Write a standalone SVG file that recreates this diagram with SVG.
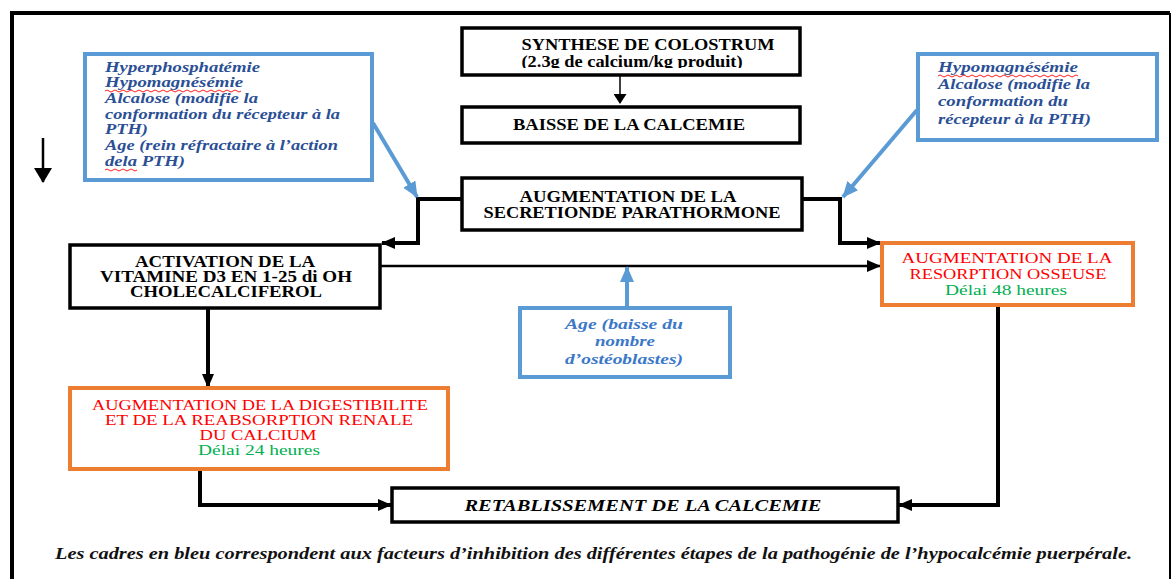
<svg xmlns="http://www.w3.org/2000/svg" width="1175" height="579" viewBox="0 0 1175 579">
<style>
.bx{fill:#fff;stroke:#000;stroke-width:3.5}
.bb{fill:#fff;stroke:#5b9bd5;stroke-width:4}
.ob{fill:#fff;stroke:#ed7d31;stroke-width:4}
text{font-family:"Liberation Serif",serif}
.t{font-weight:bold;font-size:16px;fill:#000;text-anchor:middle}
.r{font-size:15.5px;fill:#ff0000;text-anchor:middle}
.g{font-size:15px;fill:#00b050;text-anchor:middle}
.bi{font-weight:bold;font-style:italic;font-size:14.5px;fill:#2a4f95}
.ai{font-weight:bold;font-style:italic;font-size:14.5px;fill:#3b78c8;text-anchor:middle}
.cap{font-weight:bold;font-style:italic;font-size:16px;fill:#111}
.k{fill:none;stroke:#000}
.bl{fill:none;stroke:#5b9bd5;stroke-width:4}
.sq{fill:none;stroke:#ff2020;stroke-width:1}
</style>
<defs>
<marker id="ah" markerUnits="userSpaceOnUse" markerWidth="14" markerHeight="12" refX="13" refY="6" orient="auto"><path d="M0,0 L14,6 L0,12 Z" fill="#000"/></marker>
<marker id="as" markerUnits="userSpaceOnUse" markerWidth="10" markerHeight="13" refX="9" refY="6.5" orient="auto"><path d="M0,0 L10,6.5 L0,13 Z" fill="#000"/></marker>
<marker id="al" markerUnits="userSpaceOnUse" markerWidth="15" markerHeight="18" refX="14" refY="9" orient="auto"><path d="M0,0 L15,9 L0,18 Z" fill="#000"/></marker>
<marker id="ab" markerUnits="userSpaceOnUse" markerWidth="16" markerHeight="14" refX="15" refY="7" orient="auto"><path d="M0,0 L16,7 L0,14 Z" fill="#5b9bd5"/></marker>
<clipPath id="cs"><rect x="464" y="30" width="334" height="38"/></clipPath>
</defs>

<g id="frame">
<path d="M12,579 V13 H1170" fill="none" stroke="#000" stroke-width="4"/>
<path d="M1170,13 V579" fill="none" stroke="#000" stroke-width="2"/>
</g>

<g id="connectors">
<path class="k" stroke-width="1.5" d="M620,75 V103" marker-end="url(#as)"/>
<path class="k" stroke-width="4" d="M462,199 H418 V243 H382" marker-end="url(#ah)"/>
<path class="k" stroke-width="4" d="M802,199 H840 V243 H880" marker-end="url(#ah)"/>
<path class="k" stroke-width="2.5" d="M380,266 H880" marker-end="url(#ah)"/>
<path class="k" stroke-width="4" d="M208,308 V387" marker-end="url(#ah)"/>
<path class="k" stroke-width="4" d="M998,305 V505 H899" marker-end="url(#ah)"/>
<path class="k" stroke-width="4" d="M200,469 V505 H391" marker-end="url(#ah)"/>
<path class="k" stroke-width="2.5" d="M43,138 V182" marker-end="url(#al)"/>
<path class="bl" d="M373,123 L417,197" marker-end="url(#ab)"/>
<path class="bl" d="M917,110 L843,197" marker-end="url(#ab)"/>
<path class="bl" d="M627,308 V267" marker-end="url(#ab)"/>
</g>

<g id="synthese">
<rect class="bx" x="462" y="28" width="338" height="47"/>
<text class="t" x="648" y="50" textLength="253" lengthAdjust="spacingAndGlyphs">SYNTHESE DE COLOSTRUM</text>
<text class="t" x="632" y="67" font-size="15" textLength="221" lengthAdjust="spacingAndGlyphs" clip-path="url(#cs)">(2.3g de calcium/kg produit)</text>
</g>

<g id="baisse">
<rect class="bx" x="462" y="107" width="338" height="36"/>
<text class="t" x="629" y="130" textLength="232" lengthAdjust="spacingAndGlyphs">BAISSE DE LA CALCEMIE</text>
</g>

<g id="pth">
<rect class="bx" x="462" y="178" width="340" height="52"/>
<text class="t" x="628" y="202" textLength="217" lengthAdjust="spacingAndGlyphs">AUGMENTATION DE LA</text>
<text class="t" x="632" y="218" textLength="297" lengthAdjust="spacingAndGlyphs">SECRETIONDE PARATHORMONE</text>
</g>

<g id="activation">
<rect class="bx" x="70" y="245" width="310" height="63"/>
<text class="t" x="225" y="267" textLength="180" lengthAdjust="spacingAndGlyphs">ACTIVATION DE LA</text>
<text class="t" x="226" y="282" textLength="252" lengthAdjust="spacingAndGlyphs">VITAMINE D3 EN 1-25 di OH</text>
<text class="t" x="226" y="297" textLength="192" lengthAdjust="spacingAndGlyphs">CHOLECALCIFEROL</text>
</g>

<g id="resorption">
<rect class="ob" x="882" y="243" width="251" height="62"/>
<text class="r" x="1007" y="263" textLength="211" lengthAdjust="spacingAndGlyphs">AUGMENTATION DE LA</text>
<text class="r" x="1008" y="279" textLength="197" lengthAdjust="spacingAndGlyphs">RESORPTION OSSEUSE</text>
<text class="g" x="1006" y="295" textLength="122" lengthAdjust="spacingAndGlyphs">Délai 48 heures</text>
</g>

<g id="digestibilite">
<rect class="ob" x="70" y="388" width="378" height="81"/>
<text class="r" x="260" y="410" textLength="336" lengthAdjust="spacingAndGlyphs">AUGMENTATION DE LA DIGESTIBILITE</text>
<text class="r" x="259" y="425" textLength="308" lengthAdjust="spacingAndGlyphs">ET DE LA REABSORPTION RENALE</text>
<text class="r" x="258" y="440" textLength="117" lengthAdjust="spacingAndGlyphs">DU CALCIUM</text>
<text class="g" x="259" y="455" textLength="122" lengthAdjust="spacingAndGlyphs">Délai 24 heures</text>
</g>

<g id="retablissement">
<rect class="bx" x="392" y="488" width="506" height="34" stroke-width="3"/>
<text class="t" x="643" y="511" font-style="italic" textLength="357" lengthAdjust="spacingAndGlyphs">RETABLISSEMENT DE LA CALCEMIE</text>
</g>

<g id="inhib-left">
<rect class="bb" x="85" y="54" width="287" height="126"/>
<text class="bi" x="105" y="72" textLength="155" lengthAdjust="spacingAndGlyphs">Hyperphosphatémie</text>
<text class="bi" x="105" y="87" textLength="138" lengthAdjust="spacingAndGlyphs">Hypomagnésémie</text>
<text class="bi" x="105" y="103" textLength="153" lengthAdjust="spacingAndGlyphs">Alcalose (modifie la</text>
<text class="bi" x="105" y="119" textLength="235" lengthAdjust="spacingAndGlyphs">conformation du récepteur à la</text>
<text class="bi" x="105" y="134" textLength="43" lengthAdjust="spacingAndGlyphs">PTH)</text>
<text class="bi" x="105" y="150" textLength="233" lengthAdjust="spacingAndGlyphs">Age (rein réfractaire à l’action</text>
<text class="bi" x="105" y="166" textLength="80" lengthAdjust="spacingAndGlyphs">dela PTH)</text>
<path class="sq" d="M105,91 q2,-2 4,0 t4,0 t4,0 t4,0 t4,0 t4,0 t4,0 t4,0 t4,0 t4,0 t4,0 t4,0 t4,0 t4,0 t4,0 t4,0 t4,0 t4,0 t4,0 t4,0 t4,0 t4,0 t4,0 t4,0 t4,0 t4,0 t4,0 t4,0 t4,0 t4,0 t4,0 t4,0 t4,0 t4,0"/>
<path class="sq" d="M105,170 q2,-2 4,0 t4,0 t4,0 t4,0 t4,0 t4,0 t4,0 t4,0"/>
</g>

<g id="inhib-right">
<rect class="bb" x="918" y="54" width="239" height="86"/>
<text class="bi" x="938" y="72" textLength="140" lengthAdjust="spacingAndGlyphs">Hypomagnésémie</text>
<text class="bi" x="938" y="89" textLength="152" lengthAdjust="spacingAndGlyphs">Alcalose (modifie la</text>
<text class="bi" x="938" y="106" textLength="130" lengthAdjust="spacingAndGlyphs">conformation du</text>
<text class="bi" x="938" y="124" textLength="153" lengthAdjust="spacingAndGlyphs">récepteur à la PTH)</text>
<path class="sq" d="M938,76 q2,-2 4,0 t4,0 t4,0 t4,0 t4,0 t4,0 t4,0 t4,0 t4,0 t4,0 t4,0 t4,0 t4,0 t4,0 t4,0 t4,0 t4,0 t4,0 t4,0 t4,0 t4,0 t4,0 t4,0 t4,0 t4,0 t4,0 t4,0 t4,0 t4,0 t4,0 t4,0 t4,0 t4,0 t4,0 t4,0"/>
</g>

<g id="inhib-age">
<rect class="bb" x="520" y="308" width="210" height="69"/>
<text class="ai" x="624" y="329" textLength="118" lengthAdjust="spacingAndGlyphs">Age (baisse du</text>
<text class="ai" x="625" y="346" textLength="60" lengthAdjust="spacingAndGlyphs">nombre</text>
<text class="ai" x="624" y="364" textLength="118" lengthAdjust="spacingAndGlyphs">d’ostéoblastes)</text>
</g>

<g id="caption">
<text class="cap" x="55" y="559" textLength="1077" lengthAdjust="spacingAndGlyphs">Les cadres en bleu correspondent aux facteurs d’inhibition des différentes étapes de la pathogénie de l’hypocalcémie  puerpérale.</text>
</g>
</svg>
